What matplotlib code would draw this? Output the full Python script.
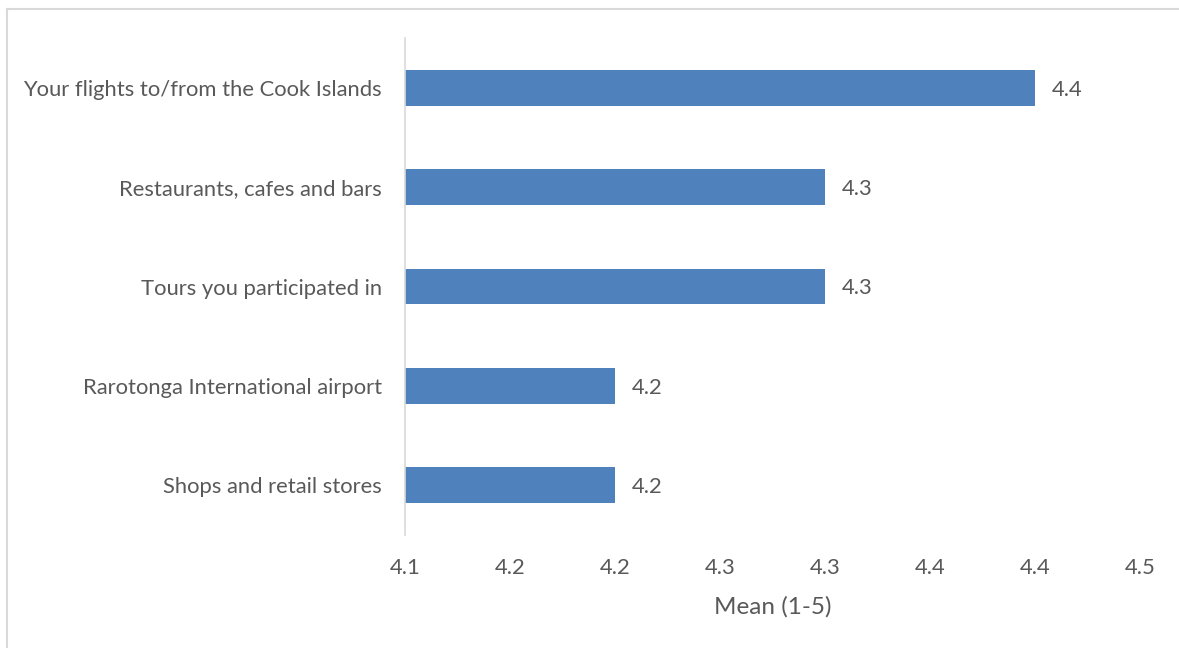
import matplotlib
matplotlib.use("Agg")
import matplotlib.pyplot as plt
from matplotlib.lines import Line2D

# data (top to bottom)
categories = [
    "Your flights to/from the Cook Islands",
    "Restaurants, cafes and bars",
    "Tours you participated in",
    "Rarotonga International airport",
    "Shops and retail stores",
]
means = [4.40, 4.30, 4.30, 4.20, 4.20]
value_labels = ["4.4", "4.3", "4.3", "4.2", "4.2"]
x_ticks = [4.10, 4.15, 4.20, 4.25, 4.30, 4.35, 4.40, 4.45]
x_tick_labels = ["4.1", "4.2", "4.2", "4.3", "4.3", "4.4", "4.4", "4.5"]

text_color = "#595959"
bar_color = "#4F81BD"
plt.rcParams["font.family"] = ["Lato", "DejaVu Sans"]

fig = plt.figure(figsize=(11.79, 6.48), dpi=100)
ax = fig.add_axes([405 / 1179, 1 - 535 / 648, 735 / 1179, 497 / 648])

y_pos = list(range(len(categories)))
ax.barh(y_pos, [m - x_ticks[0] for m in means], left=x_ticks[0],
        height=0.36, color=bar_color)

for y, m, lab in zip(y_pos, means, value_labels):
    ax.text(m + 0.0082, y + 0.02, lab, va="center", ha="left",
            fontsize=15.8, color=text_color)

ax.set_ylim(len(categories) - 0.5, -0.5)
ax.set_xlim(x_ticks[0], x_ticks[-1])
ax.set_yticks(y_pos)
ax.set_yticklabels(categories, fontsize=15.8, color=text_color)
ax.set_xticks(x_ticks)
ax.set_xticklabels(x_tick_labels, fontsize=15.8, color=text_color)
ax.tick_params(axis="both", length=0)
ax.tick_params(axis="y", pad=16.5)
ax.tick_params(axis="x", pad=16.5)
ax.set_xlabel("Mean (1-5)", fontsize=17.5, color=text_color, labelpad=13)

for side in ["top", "right", "bottom"]:
    ax.spines[side].set_visible(False)
ax.spines["left"].set_color("#D9D9D9")
ax.spines["left"].set_linewidth(1.2)

# light frame along the top and left edges of the picture
fig.add_artist(Line2D([7 / 1179, 1], [1 - 8.5 / 648, 1 - 8.5 / 648],
                      transform=fig.transFigure, color="#D9D9D9", lw=1.5))
fig.add_artist(Line2D([7 / 1179, 7 / 1179], [0, 1 - 8.5 / 648],
                      transform=fig.transFigure, color="#D9D9D9", lw=1.5))

fig.savefig("out.png", dpi=100)
